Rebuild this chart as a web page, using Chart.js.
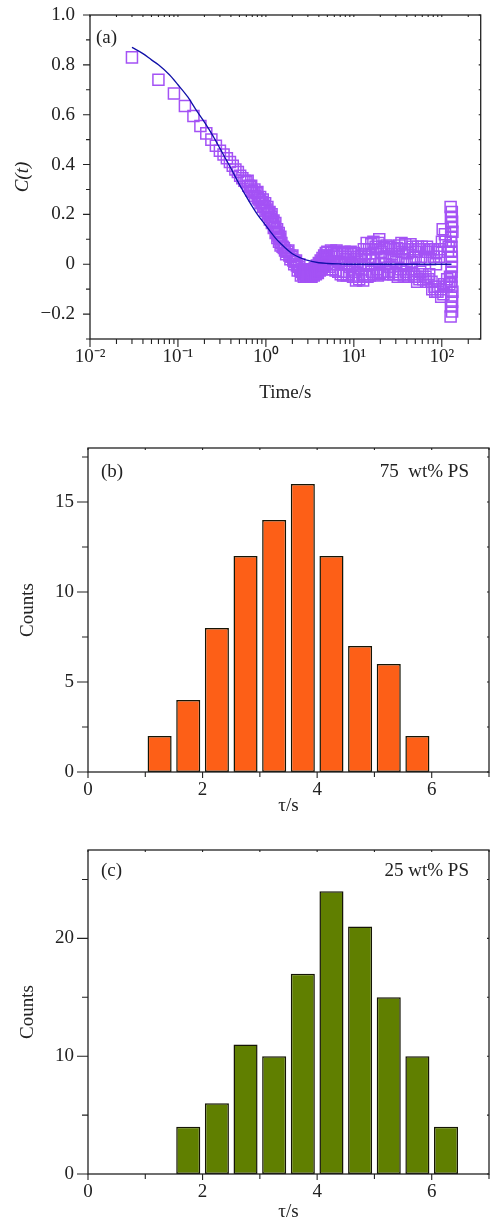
<!DOCTYPE html>
<html><head><meta charset="utf-8">
<script src="https://cdn.jsdelivr.net/npm/chart.js@4"></script>
<style>
html,body{margin:0;padding:0;background:#fff;}
body{width:490px;height:1222px;position:relative;overflow:hidden;}
canvas{position:absolute;left:0;}
</style></head><body>
<canvas id="ca" width="490" height="410" style="top:0px"></canvas>
<canvas id="cb" width="490" height="410" style="top:410px"></canvas>
<canvas id="cc" width="490" height="402" style="top:820px"></canvas>
<script>
// ---------- Panel (a) data ----------
const timeA = [
 0.03,0.06,0.09,0.12,0.15,0.18,0.21,0.24,0.27,0.30,0.33,0.36,0.39,0.42,0.45,0.48,0.51,0.54,0.57,0.60,
 0.63,0.66,0.69,0.72,0.75,0.78,0.81,0.84,0.87,0.90,0.93,0.96,0.99,1.02,1.05,1.08,1.11,1.14,1.17,1.20,
 1.23,1.26,1.29,1.32,1.35,1.38,1.41,1.44,1.47,1.50,
 1.55,1.65,1.75,1.85,1.95,2.05,2.15,2.25,2.35,2.45,2.55,2.65,2.75,2.85,2.95,3.05,3.15,3.25,3.35,3.45,
 3.55,3.65,3.75,3.85,3.95,4.05,4.15,4.25,4.35,4.45,4.55,4.65,4.75,4.85,4.95,
 5.2,5.4,5.6,5.8,6.0,6.2,6.5,6.8,7.1,7.4,7.7,8.0,8.3,8.6,9.0,9.4,9.8,10.2,10.6,11.0,
 11.5,12.0,12.5,13.0,13.5,14.0,14.6,15.2,15.8,16.4,17.0,17.7,18.4,19.1,19.8,20.6,21.4,22.2,23.1,24.0,
 25.0,26.0,27.0,28.1,29.2,30.4,31.6,32.8,34.1,35.5,36.9,38.4,39.9,41.5,43.2,44.9,46.7,48.6,50.5,52.5,
 54.6,56.8,59.1,61.5,64.0,66.5,69.2,72.0,74.9,77.9,81.0,84.2,87.6,91.1,94.7,98.5,102.4,106.5,110.8,115.2,
 119.8,124.0,
 126,126,127,127,128,128,128,129,129,129,130,130,130,131,131,131,132,132,126,127,128,129,130
];
const corrA = [
 0.83,0.74,0.685,0.635,0.595,0.555,0.525,0.50,0.475,0.455,0.44,0.425,0.41,0.395,0.38,0.37,0.355,0.345,0.335,0.33,
 0.315,0.31,0.295,0.29,0.275,0.285,0.265,0.26,0.245,0.25,0.23,0.235,0.215,0.22,0.20,0.205,0.18,0.19,0.165,0.17,
 0.145,0.15,0.125,0.13,0.105,0.115,0.09,0.10,0.075,0.085,
 0.07,0.055,0.05,0.035,0.03,0.015,0.01,-0.005,-0.01,-0.025,-0.03,-0.04,-0.035,-0.045,-0.04,-0.045,-0.035,-0.045,-0.03,-0.04,
 -0.025,-0.035,-0.02,-0.03,-0.01,-0.02,0.0,-0.01,0.01,0.0,0.02,0.01,0.03,0.02,0.035,
 0.03,-0.02,0.045,0.00,0.05,-0.025,0.04,0.01,-0.04,0.045,-0.03,0.02,-0.045,0.03,-0.01,0.04,-0.05,0.02,-0.065,0.01,
 -0.06,0.03,-0.04,0.06,-0.05,0.085,0.0,-0.045,0.08,0.02,-0.04,0.07,-0.02,0.085,-0.035,0.05,-0.04,0.065,0.0,-0.03,
 0.07,-0.01,0.04,-0.04,0.06,0.01,-0.05,0.075,-0.02,0.05,-0.045,0.08,0.0,-0.05,0.06,-0.02,0.07,-0.05,0.03,-0.07,
 0.06,-0.03,0.07,-0.06,0.02,-0.07,0.05,-0.04,0.06,-0.10,0.03,-0.11,0.05,-0.09,0.06,-0.13,0.14,-0.08,0.09,-0.06,
 0.07,-0.05,
 0.23,-0.21,0.19,-0.17,0.15,-0.13,0.11,-0.09,0.07,-0.05,0.03,-0.01,0.21,-0.19,0.17,-0.15,0.13,-0.11,0.09,-0.07,0.05,-0.03,0.01
];
// further measured points filling the noisy band (t > 1.5 s)
const timeA2 = [
 0.62,0.68,0.74,0.80,0.86,0.92,0.98,1.04,1.10,1.16,1.22,1.28,1.34,1.40,1.46,
 1.6,1.7,1.8,1.9,2.0,2.1,2.2,2.3,2.4,2.5,2.6,2.7,2.8,2.9,3.0,3.1,3.2,3.3,3.4,3.5,3.6,3.7,3.8,3.9,4.0,
 4.1,4.2,4.3,4.4,4.5,4.6,4.7,4.8,4.9,5.0,
 5.3,5.5,5.7,5.9,6.1,6.35,6.65,6.95,7.25,7.55,7.85,8.15,8.45,8.8,9.2,9.6,10.0,10.4,10.8,11.25,
 11.75,12.25,12.75,13.25,13.75,14.3,14.9,15.5,16.1,16.7,17.35,18.05,18.75,19.45,20.2,21.0,21.8,22.65,23.55,24.5,
 25.5,26.5,27.55,28.65,29.8,31.0,32.2,33.45,34.8,36.2,37.65,39.15,40.7,42.35,44.05,45.8,47.65,49.55,51.5,53.55,
 55.7,57.95,60.3,62.75,65.25,67.85,70.6,73.45,76.4,79.45,82.6,85.9,89.35,92.9,96.6,100.4,104.4,108.6,113.0,117.5,121.9
];
const corrA2 = [
 0.335,0.315,0.30,0.29,0.27,0.26,0.245,0.23,0.21,0.20,0.175,0.165,0.14,0.125,0.11,
 0.065,0.04,0.055,0.02,0.035,0.0,0.015,-0.025,0.0,-0.045,-0.02,-0.05,-0.025,-0.05,-0.03,-0.05,-0.025,-0.05,-0.02,-0.045,-0.015,-0.04,-0.005,-0.035,0.005,
 -0.025,0.015,-0.02,0.025,-0.01,0.035,-0.005,0.045,0.005,0.05,
 -0.01,0.055,-0.02,0.035,0.0,0.055,-0.03,0.03,0.0,-0.045,0.05,0.0,0.04,-0.04,0.05,0.0,0.045,-0.03,0.03,-0.045,
 0.0,0.035,-0.065,0.02,0.04,-0.05,0.06,0.03,-0.03,0.09,0.0,0.06,-0.045,0.1,0.02,0.07,-0.03,0.03,0.075,-0.04,
 0.03,0.06,-0.03,0.02,-0.04,0.065,0.03,-0.04,0.085,0.02,0.06,-0.03,0.045,-0.04,0.08,0.01,-0.04,0.05,-0.05,0.07,
 -0.06,0.03,-0.04,0.06,-0.05,0.07,-0.06,0.02,-0.07,0.06,-0.09,0.0,-0.11,0.03,-0.10,0.09,-0.12,0.12,-0.09,0.05,-0.08
];
const fitT = [0.03,0.04,0.05,0.06,0.08,0.1,0.13,0.16,0.2,0.25,0.3,0.4,0.5,0.65,0.8,1,1.25,1.5,2,2.5,3,4,5,7,10,20,50,129];
const fitC = [0.87,0.845,0.82,0.80,0.76,0.72,0.67,0.62,0.57,0.515,0.465,0.385,0.32,0.25,0.20,0.155,0.11,0.08,0.042,0.025,0.015,0.006,0.003,0.001,0,0,0,0];
const xTicksA = [0.01,0.02,0.03,0.04,0.05,0.06,0.07,0.08,0.09,0.1,0.2,0.3,0.4,0.5,0.6,0.7,0.8,0.9,1,2,3,4,5,6,7,8,9,10,20,30,40,50,60,70,80,90,100,200];
const xMajorA = [0.01,0.1,1,10,100];
const xMajorLabelsA = ['10⁻²','10⁻¹','10⁰','10¹','10²'];
const yTicksA = [-0.3,-0.2,-0.1,0,0.1,0.2,0.3,0.4,0.5,0.6,0.7,0.8,0.9,1.0];

// ---------- Panel (b) data ----------
const binsB = [1.25,1.75,2.25,2.75,3.25,3.75,4.25,4.75,5.25,5.75];
const countsB = [2,4,8,12,14,16,12,7,6,2];
// ---------- Panel (c) data ----------
const binsC = [1.75,2.25,2.75,3.25,3.75,4.25,4.75,5.25,5.75,6.25];
const countsC = [4,6,11,10,17,24,21,15,10,4];
const xTicksBC = [0,1,2,3,4,5,6,7];
const yTicksB = [0,2.5,5,7.5,10,12.5,15,17.5];
const yTicksC = [0,5,10,15,20,25];

const FONT = "'Liberation Serif','Times New Roman',serif";
const INK = '#222';

function framePlugin(o) {
  return {
    id: 'frameTicks',
    afterDraw(chart) {
      const {ctx, chartArea: a} = chart;
      const x = chart.scales.x, y = chart.scales.y;
      ctx.save();
      ctx.strokeStyle = INK;
      ctx.lineWidth = 1.3;
      ctx.strokeRect(a.left, a.top, a.right - a.left, a.bottom - a.top);
      ctx.lineWidth = 1.1;
      ctx.beginPath();
      x.ticks.forEach(t => {
        const px = x.getPixelForValue(t.value);
        const len = o.isMajorX(t.value) ? o.xMajor : o.xMinor;
        ctx.moveTo(px, a.bottom); ctx.lineTo(px, a.bottom + len);
        ctx.moveTo(px, a.top); ctx.lineTo(px, a.top + o.inner);
      });
      y.ticks.forEach(t => {
        const py = y.getPixelForValue(t.value);
        const len = o.isMajorY(t.value) ? o.yMajor : o.yMinor;
        ctx.moveTo(a.left, py); ctx.lineTo(a.left - len, py);
        ctx.moveTo(a.right, py); ctx.lineTo(a.right - o.inner, py);
      });
      ctx.stroke();
      ctx.fillStyle = INK;
      ctx.font = '19px ' + FONT;
      ctx.textBaseline = 'middle';
      o.notes.forEach(n => { ctx.textAlign = n.align; ctx.fillText(n.text, n.x, n.y); });
      ctx.restore();
    }
  };
}

function xScaleOpts(extra, h, tickPad, titleText, titlePad, italic) {
  return Object.assign({
    position: 'bottom',
    offset: false,
    grid: {display: false, drawTicks: false},
    border: {display: false},
    afterFit: s => { s.height = h; s.paddingLeft = 0; s.paddingRight = 0; },
    title: {display: true, text: titleText, color: INK,
      font: {family: FONT, size: 19, lineHeight: 1, style: italic ? 'italic' : 'normal'},
      padding: {top: 0, bottom: titlePad}}
  }, extra, {
    ticks: Object.assign({color: INK, font: {family: FONT, size: 19}, padding: tickPad,
      autoSkip: false, maxRotation: 0, minRotation: 0}, extra.ticks || {})
  });
}
function yScaleOpts(extra, w, tickPad, titleText, titlePad, italic) {
  return Object.assign({
    position: 'left',
    grid: {display: false, drawTicks: false},
    border: {display: false},
    afterFit: s => { s.width = w; s.paddingTop = 0; s.paddingBottom = 0; },
    title: {display: true, text: titleText, color: INK,
      font: {family: FONT, size: 19, lineHeight: 1, style: italic ? 'italic' : 'normal'},
      padding: {top: titlePad, bottom: 0}}
  }, extra, {
    ticks: Object.assign({color: INK, font: {family: FONT, size: 19}, padding: tickPad,
      autoSkip: false}, extra.ticks || {})
  });
}
const near = (a, b) => Math.abs(a - b) < 1e-9;
const fmtA = v => {
  const k = Math.round(v * 10);
  if (k % 2 !== 0) return '';
  if (k === 0) return '0';
  return (v < 0 ? '−' : '') + Math.abs(v).toFixed(1);
};

const pointsA = timeA.map((t, i) => ({x: t, y: corrA[i]}))
  .concat(timeA2.map((t, i) => ({x: t, y: corrA2[i]})));

// ---------- Chart (a) ----------
new Chart(document.getElementById('ca'), {
  type: 'scatter',
  data: {
    datasets: [
      { label: 'fit', data: fitT.map((t, i) => ({x: t, y: fitC[i]})), showLine: true,
        borderColor: '#1010a8', borderWidth: 1.3, pointRadius: 0, cubicInterpolationMode: 'monotone',
        fill: false, order: 0 },
      { label: 'C(t)', data: pointsA, showLine: false,
        pointStyle: 'rect', pointRadius: 7.8, pointBorderWidth: 1.5,
        borderColor: '#a452f5', backgroundColor: 'rgba(0,0,0,0)', order: 1 }
    ]
  },
  options: {
    responsive: false, animation: false, devicePixelRatio: 1,
    layout: {padding: {top: 15, right: 1, left: 0, bottom: 0}},
    plugins: {legend: {display: false}, tooltip: {enabled: false}},
    scales: {
      x: xScaleOpts({type: 'logarithmic', min: 0.01, max: 277,
        afterBuildTicks: s => { s.ticks = xTicksA.map(v => ({value: v})); },
        ticks: {callback: v => { const i = xMajorA.findIndex(m => near(m, v)); return i >= 0 ? xMajorLabelsA[i] : ''; }}
      }, 71, 7, 'Time/s', 7.5, false),
      y: yScaleOpts({type: 'linear', min: -0.3, max: 1.0,
        afterBuildTicks: s => { s.ticks = yTicksA.map(v => ({value: v})); },
        ticks: {callback: fmtA}
      }, 90, 15, 'C(t)', 13.5, true)
    }
  },
  plugins: [framePlugin({
    isMajorX: v => xMajorA.some(m => near(m, v)), isMajorY: v => Math.round(v * 10) % 2 === 0,
    xMajor: 8, xMinor: 5, yMajor: 7, yMinor: 4, inner: 2,
    notes: [{text: '(a)', x: 96, y: 38, align: 'left'}]
  })]
});

// ---------- Histogram builder ----------
function histogram(id, bins, counts, yMax, yTicks, yMajorStep, color, tag, note, topPad) {
  new Chart(document.getElementById(id), {
    type: 'bar',
    data: {
      datasets: [{ label: 'Counts', data: bins.map((b, i) => ({x: b, y: counts[i]})),
        backgroundColor: color, borderColor: '#151505', borderWidth: 1.5, borderSkipped: false,
        categoryPercentage: 1, barPercentage: 0.84 }]
    },
    options: {
      responsive: false, animation: false, devicePixelRatio: 1,
      layout: {padding: {top: topPad, right: 1, left: 0, bottom: 0}},
      plugins: {legend: {display: false}, tooltip: {enabled: false}},
      scales: {
        x: xScaleOpts({type: 'linear', min: 0, max: 7,
          afterBuildTicks: s => { s.ticks = xTicksBC.map(v => ({value: v})); },
          ticks: {callback: v => (v % 2 === 0 ? String(v) : '')}
        }, 48, 7, 'τ/s', id === 'cb' ? 4.5 : 0, false),
        y: yScaleOpts({type: 'linear', min: 0, max: yMax,
          afterBuildTicks: s => { s.ticks = yTicks.map(v => ({value: v})); },
          ticks: {callback: v => (v % yMajorStep === 0 ? String(v) : '')}
        }, 88, 14, 'Counts', 18.5, false)
      }
    },
    plugins: [framePlugin({
      isMajorX: v => v % 2 === 0, isMajorY: v => v % yMajorStep === 0,
      xMajor: 6, xMinor: 5, yMajor: 11, yMinor: 6, inner: 2,
      notes: [{text: tag, x: 101, y: note.tagY, align: 'left'},
              {text: note.text, x: 469, y: note.tagY, align: 'right'}]
    })]
  });
}
histogram('cb', binsB, countsB, 18, yTicksB, 5, '#fd5f17', '(b)', {text: '75  wt% PS', tagY: 62}, 38);
histogram('cc', binsC, countsC, 27.5, yTicksC, 10, '#607f00', '(c)', {text: '25 wt% PS', tagY: 51}, 30);
</script>
</body></html>
